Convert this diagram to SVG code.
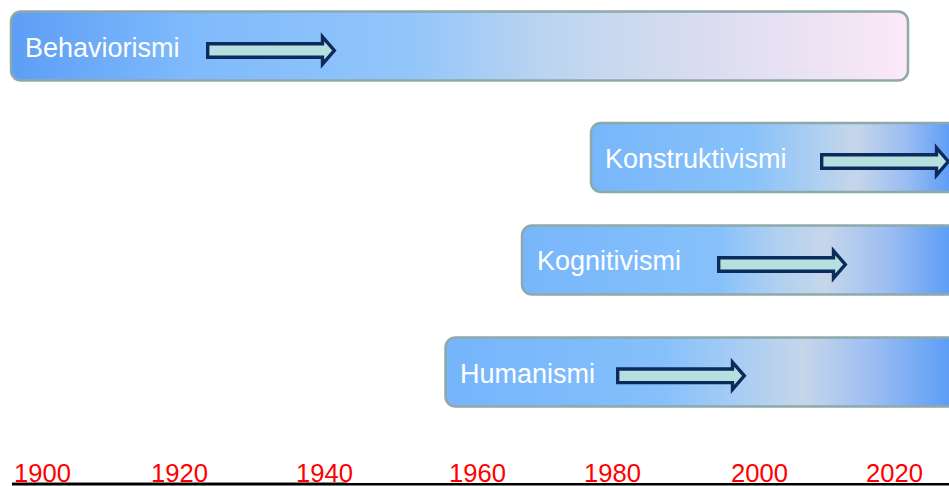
<svg xmlns="http://www.w3.org/2000/svg" width="949" height="486" viewBox="0 0 949 486">
  <style>
    .box { stroke: #8fa9aa; stroke-width: 2.5; }
    .label { font-family: "Liberation Sans", Arial, sans-serif; font-size: 27px; fill: #ffffff; }
    .year { font-family: "Liberation Sans", Arial, sans-serif; font-size: 26.5px; fill: #ff0000; }
    .arrow { fill: #b6dfe0; stroke: #0d2a5c; stroke-width: 3.4; stroke-linejoin: miter; }
  </style>
  <defs>
    <linearGradient id="gBeh" gradientUnits="userSpaceOnUse" x1="11" y1="0" x2="908" y2="0">
      <stop offset="0" stop-color="#5d9ef6"/>
      <stop offset="0.2" stop-color="#7fbafc"/>
      <stop offset="0.45" stop-color="#93c6fa"/>
      <stop offset="0.6" stop-color="#bcd5f0"/>
      <stop offset="0.76" stop-color="#d8dcef"/>
      <stop offset="1" stop-color="#fce8f8"/>
    </linearGradient>
    <linearGradient id="gKon" gradientUnits="userSpaceOnUse" x1="591" y1="0" x2="949" y2="0">
      <stop offset="0" stop-color="#78b6fb"/>
      <stop offset="0.45" stop-color="#88c2fa"/>
      <stop offset="0.64" stop-color="#b0d0f0"/>
      <stop offset="0.74" stop-color="#c6d6ea"/>
      <stop offset="0.88" stop-color="#9bbdf2"/>
      <stop offset="1" stop-color="#5e9ef6"/>
    </linearGradient>
    <linearGradient id="gKog" gradientUnits="userSpaceOnUse" x1="522" y1="0" x2="949" y2="0">
      <stop offset="0" stop-color="#78b6fb"/>
      <stop offset="0.46" stop-color="#86c1fb"/>
      <stop offset="0.6" stop-color="#b0d0f0"/>
      <stop offset="0.71" stop-color="#c6d6ea"/>
      <stop offset="0.86" stop-color="#9bbdf2"/>
      <stop offset="1" stop-color="#5e9ef6"/>
    </linearGradient>
    <linearGradient id="gHum" gradientUnits="userSpaceOnUse" x1="445" y1="0" x2="949" y2="0">
      <stop offset="0" stop-color="#76b4fb"/>
      <stop offset="0.43" stop-color="#85c0fb"/>
      <stop offset="0.585" stop-color="#a8cdf3"/>
      <stop offset="0.71" stop-color="#c6d6ea"/>
      <stop offset="0.84" stop-color="#9ebff2"/>
      <stop offset="1" stop-color="#5e9ef6"/>
    </linearGradient>
    <!-- block arrow, origin at shaft's left end on the centre line -->
    <path id="blockArrow" class="arrow" d="M1.7,-6.8 H116.5 V-13.6 L128.3,0 L116.5,13.6 V6.8 H1.7 Z"/>
  </defs>

  <rect width="949" height="486" fill="#ffffff"/>

  <g id="behaviorismi">
    <rect class="box" x="11" y="11.5" width="897" height="69" rx="10" fill="url(#gBeh)"/>
    <text class="label" x="25" y="57">Behaviorismi</text>
    <use href="#blockArrow" x="206" y="50.5"/>
  </g>

  <g id="konstruktivismi">
    <rect class="box" x="591" y="123" width="400" height="69" rx="10" fill="url(#gKon)"/>
    <text class="label" x="605" y="168">Konstruktivismi</text>
    <use href="#blockArrow" x="820" y="161.5"/>
  </g>

  <g id="kognitivismi">
    <rect class="box" x="522" y="225.5" width="470" height="69" rx="10" fill="url(#gKog)"/>
    <text class="label" x="537" y="270">Kognitivismi</text>
    <use href="#blockArrow" x="717" y="264.5"/>
  </g>

  <g id="humanismi">
    <rect class="box" x="445.5" y="337.5" width="550" height="69" rx="10" fill="url(#gHum)"/>
    <text class="label" x="460" y="383">Humanismi</text>
    <use href="#blockArrow" x="616" y="375.8"/>
  </g>

  <g id="axis">
    <line x1="12" y1="482.5" x2="347" y2="482.5" stroke="#8a8a8a" stroke-width="1"/>
    <line x1="12" y1="484.3" x2="949" y2="484.3" stroke="#000000" stroke-width="2.4"/>
    <text class="year" x="14" y="481.5" textLength="57" lengthAdjust="spacingAndGlyphs">1900</text>
    <text class="year" x="151" y="481.5" textLength="57" lengthAdjust="spacingAndGlyphs">1920</text>
    <text class="year" x="296" y="481.5" textLength="57" lengthAdjust="spacingAndGlyphs">1940</text>
    <text class="year" x="449" y="481.5" textLength="57" lengthAdjust="spacingAndGlyphs">1960</text>
    <text class="year" x="584" y="481.5" textLength="57" lengthAdjust="spacingAndGlyphs">1980</text>
    <text class="year" x="731" y="481.5" textLength="57" lengthAdjust="spacingAndGlyphs">2000</text>
    <text class="year" x="866" y="481.5" textLength="57" lengthAdjust="spacingAndGlyphs">2020</text>
  </g>
</svg>
